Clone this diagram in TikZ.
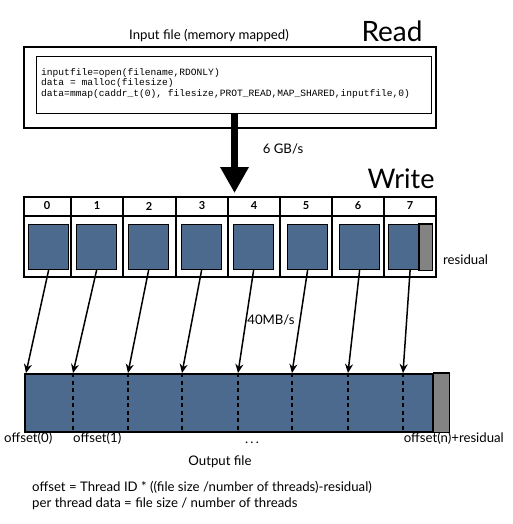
\documentclass[tikz,border=0pt]{standalone}
\usepackage{fontspec}
\setmainfont{Lato}
\newfontfamily\codefont{Liberation Mono}
\usetikzlibrary{arrows.meta,positioning}
\definecolor{fileblue}{HTML}{4B6A8D}
\definecolor{resgray}{HTML}{838383}

\begin{document}
\begin{tikzpicture}[x=1pt,y=-1pt,
  box/.style={draw=black,line width=1.5pt},
  blk/.style={fill=fileblue,draw=black,line width=1.2pt,inner sep=0pt,anchor=north west},
  lbl/.style={font=\fontsize{13.2}{15}\selectfont,inner sep=0pt},
  num/.style={font=\fontsize{11}{13}\selectfont\bfseries,inner sep=0pt},
  big/.style={font=\fontsize{28}{30}\selectfont,inner sep=0pt,anchor=base},
  wr/.style={-{Stealth[length=9pt,width=8pt]},line width=1.5pt},
  cut/.style={line width=2pt,dash pattern=on 4pt off 3.5pt}]
\useasboundingbox (0,0) rectangle (513,524);

% read side
\draw[box] (24,47) rectangle (436,128);
\node[draw=black,line width=1.2pt,minimum width=395pt,minimum height=57pt,anchor=north west] (mapbox) at (36,56) {};
\node[lbl] (intitle) at (209,36) {Input file (memory mapped)};
\node[big] (read) at (392,42) {Read};
\node[anchor=north west,align=left,inner sep=0pt,font=\codefont\fontsize{9.6}{10.7}\selectfont] (code) at (41,68)
  {inputfile=open(filename,RDONLY)\\data = malloc(filesize)\\data=mmap(caddr\_t(0), filesize,PROT\_READ,MAP\_SHARED,inputfile,0)};

% big copy arrow
\coordinate (hit) at (234.5,193);
\draw[line width=7pt,-{Triangle[length=26pt,width=27pt]}] (mapbox.south -| hit) -- (hit);
\node[lbl] (fast) at (283,149) {6 GB/s};

% thread blocks
\node[big,font=\fontsize{27}{30}\selectfont] (write) at (401,188) {Write};
\draw[box] (24,197) rectangle (436,277);
\draw[line width=1.2pt] (24,216) -- (436,216);
\foreach \x in {71,123,176,228,280,332,384}
  \draw[line width=1.2pt] (\x,197) -- (\x,277);
\foreach \x/\n in {47/0,97/1,149/2,202/3,254/4,306/5,358/6,410/7}
  \node[num] (t\n) at (\x,206) {\n};
\foreach \x/\n in {28/0,76/1,128/2,181/3,233/4,287/5,339/6}
  \node[blk,minimum width=40pt,minimum height=45pt] (sq\n) at (\x,224) {};
\node[blk,minimum width=43pt,minimum height=45pt] (sq7) at (388,224) {};
\draw[fill=resgray,draw=black,line width=1.2pt] (419,224) rectangle (sq7.south east);
\node[lbl,anchor=west] (resid) at (443,260) {residual};

% output file
\node[fill=fileblue,draw=black,line width=1.5pt,minimum width=408pt,minimum height=58pt,anchor=north west,inner sep=0pt] (outbar) at (24,373) {};
\draw[fill=resgray,draw=black,line width=1.2pt] (outbar.north east) rectangle ([xshift=16pt]outbar.south east);
\foreach \x [count=\n from 0] in {26,73,128,182,238,292,348,403}
  \coordinate (off\n) at (\x,373);
\foreach \n in {1,...,7}
  \draw[cut] (off\n) -- (off\n |- outbar.south);
\foreach \n in {0,...,7}
  \draw[wr] (sq\n.south) -- (off\n);
\node[lbl] (slow) at (271,320) {40MB/s};

% labels
\node[lbl,anchor=west] (o0) at (4,438) {offset(0)};
\node[lbl,anchor=west] (o1) at (73,438) {offset(1)};
\node[lbl] (dots) at (252,443) {.\,.\,.};
\node[lbl,anchor=east] (on) at (504,438) {offset(n)+residual};
\node[lbl] (outtitle) at (220,462) {Output file};
\node[lbl,anchor=base west] (eq1) at (32,491) {offset = Thread ID * ((file size /number of threads)-residual)};
\node[lbl,anchor=base west] (eq2) at (32,507) {per thread data = file size / number of threads};
\end{tikzpicture}
\end{document}
